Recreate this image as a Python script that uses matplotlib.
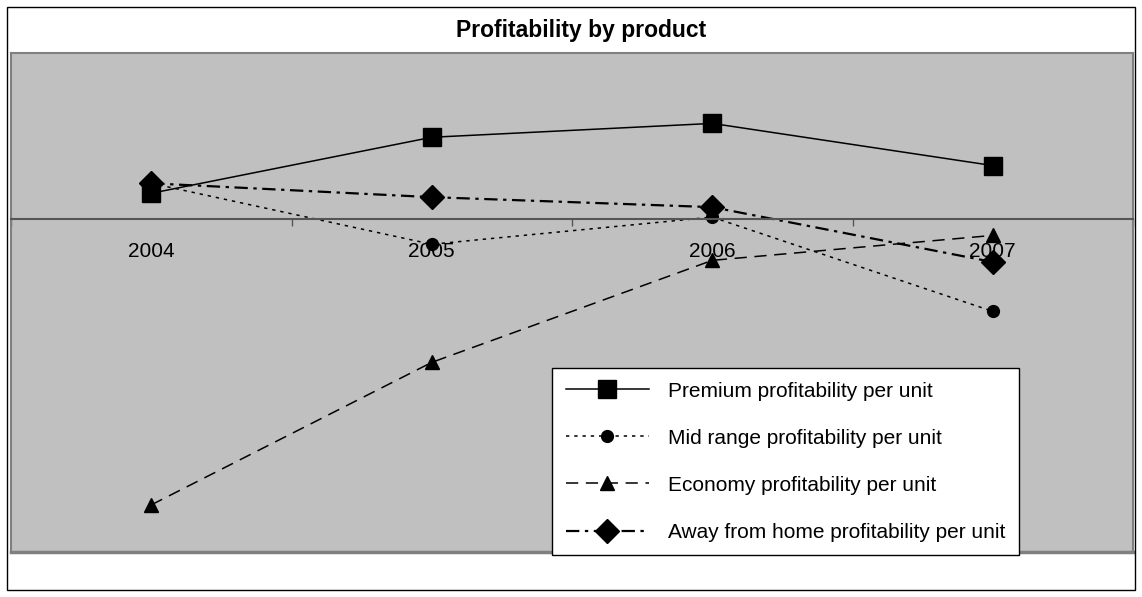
import matplotlib

matplotlib.use("Agg")

import matplotlib.pyplot as plt
from matplotlib.patches import Rectangle

plt.rcParams["font.family"] = ["Liberation Sans", "DejaVu Sans"]

years = ["2004", "2005", "2006", "2007"]
premium = [0.47, 1.48, 1.73, 0.97]
mid_range = [0.65, -0.45, 0.04, -1.66]
economy = [-5.15, -2.58, -0.74, -0.29]
away_from_home = [0.65, 0.40, 0.22, -0.77]

series = [
    ("Premium profitability per unit", premium,
     dict(linestyle="-", linewidth=1.1, marker="s", markersize=13)),
    ("Mid range profitability per unit", mid_range,
     dict(linestyle=(0, (2.2, 3.2)), linewidth=1.1, marker="o", markersize=8.5)),
    ("Economy profitability per unit", economy,
     dict(linestyle=(0, (8, 5)), linewidth=1.1, marker="^", markersize=10)),
    ("Away from home profitability per unit", away_from_home,
     dict(linestyle=(0, (6, 2.5, 1.5, 2.5)), linewidth=1.6, marker="D", markersize=12)),
]

W, H = 1142, 597
fig = plt.figure(figsize=(W / 100, H / 100), dpi=100, facecolor="white")

# outer chart border
fig.patches.append(Rectangle((7 / W, 1 - 590 / H), 1128 / W, 583 / H,
                             transform=fig.transFigure, fill=False,
                             edgecolor="black", linewidth=1.0))

ax = fig.add_axes([11 / W, 1 - 552 / H, 1122 / W, 499 / H])
ax.set_facecolor("#c0c0c0")
for side in ("top", "left", "right"):
    ax.spines[side].set_color("#808080")
    ax.spines[side].set_linewidth(1.5)

x = list(range(len(years)))
for label, values, style in series:
    ax.plot(x, values, color="black", label=label, markeredgecolor="black",
            markerfacecolor="black", clip_on=False, **style)

ax.set_xlim(-0.5, len(years) - 0.5)
ax.set_ylim(-6.0, 3.0)
ax.set_yticks([])

# category axis crosses at zero
ax.spines["bottom"].set_position(("data", 0))
ax.spines["bottom"].set_color("#555555")
ax.spines["bottom"].set_linewidth(1.5)
ax.set_xticks(x)
ax.set_xticklabels(years, fontsize=15)
ax.set_xticks([i - 0.5 for i in range(len(years) + 1)], minor=True)
ax.tick_params(axis="x", which="major", length=0, pad=16)
ax.tick_params(axis="x", which="minor", length=5, width=1, color="#555555",
               direction="out")

# bottom edge of the plot area
ax.axhline(-6.0, color="#808080", linewidth=2.5, clip_on=False)

fig.text(581 / W, 1 - 31 / H, "Profitability by product", ha="center",
         va="center", fontsize=16.5, fontweight="bold")

leg = ax.legend(loc="upper left", bbox_to_anchor=(552 / W, 1 - 368 / H),
                bbox_transform=fig.transFigure, borderaxespad=0, fontsize=15,
                frameon=True, fancybox=False, edgecolor="black", framealpha=1,
                handlelength=4.0, labelspacing=1.35, borderpad=0.65,
                handletextpad=0.9)
leg.get_frame().set_linewidth(1.0)
leg.set_zorder(5)

fig.savefig("out.png", dpi=100, facecolor="white")
